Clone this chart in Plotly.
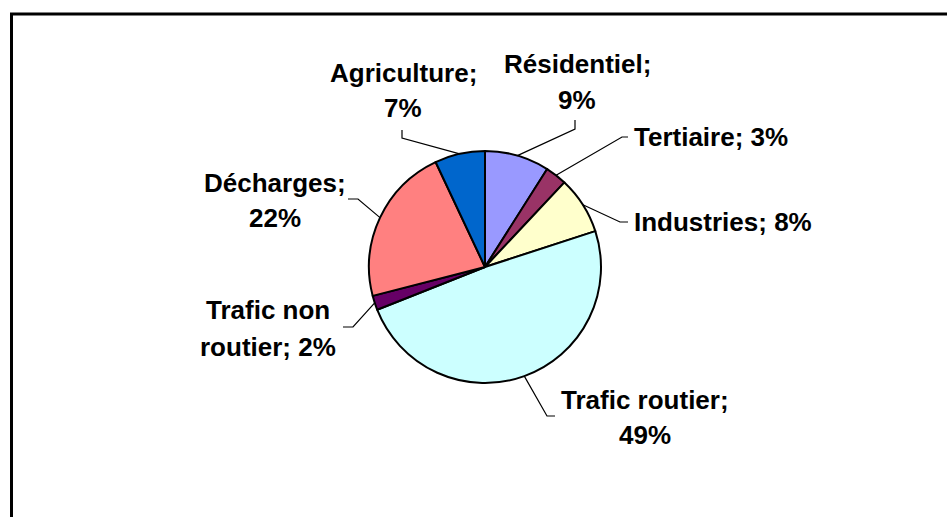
import math
import plotly.graph_objects as go

# ---- data ----
categories = ["Résidentiel", "Tertiaire", "Industries", "Trafic routier",
              "Trafic non routier", "Décharges", "Agriculture"]
values = [9, 3, 8, 49, 2, 22, 7]
colors = ["#9999FF", "#993366", "#FFFFCC", "#CCFFFF", "#660066", "#FF8080", "#0066CC"]
# words on first label line (None = single line)
first_line_words = [1, None, None, 2, 2, 1, 1]

# ---- layout (pixels) ----
W, H = 947, 517
CX, CY, R = 485, 267, 116
label_pos = [  # x, y line1, y line2, xanchor
    (577, 64, 100, "center"),
    (632, 137, None, "left"),
    (632, 222, None, "left"),
    (645, 400, 435, "center"),
    (268, 310, 347, "center"),
    (275, 183, 218, "center"),
    (403, 73, 108, "center"),
]
leader_pts = [  # elbow, end
    ((575, 129), (575, 120)),
    ((622, 137), (628, 137)),
    ((620, 222), (628, 222)),
    ((547, 416), (555, 416)),
    ((353, 327), (343, 327)),
    ((358, 199), (348, 199)),
    ((402, 138), (402, 130)),
]
FONT = dict(family="Liberation Sans, Arial, sans-serif", size=26, color="black")

fig = go.Figure()
fig.add_trace(go.Pie(
    labels=categories, values=values, sort=False, direction="clockwise", rotation=0,
    marker=dict(colors=colors, line=dict(color="black", width=2)),
    textinfo="none", hoverinfo="skip", showlegend=False,
    domain=dict(x=[(CX - R) / W, (CX + R) / W], y=[(H - CY - R) / H, (H - CY + R) / H]),
))

total = sum(values)
cum = 0
shapes = []
annotations = []
for i, (cat, v) in enumerate(zip(categories, values)):
    mid = (cum + v / 2) / total * 2 * math.pi
    cum += v
    sx, sy = CX + R * math.sin(mid), CY - R * math.cos(mid)
    (ex, ey), (fx, fy) = leader_pts[i]
    shapes.append(dict(type="path", xref="x", yref="y",
                       path=f"M{sx:.1f},{sy:.1f} L{ex},{ey} L{fx},{fy}",
                       line=dict(color="black", width=1.2)))
    words = f"{cat}; {v}%".split(" ")
    x, y1, y2, xa = label_pos[i]
    n = first_line_words[i]
    lines = [" ".join(words)] if n is None else [" ".join(words[:n]), " ".join(words[n:])]
    for txt, yy in zip(lines, [y1, y2]):
        annotations.append(dict(x=x, y=yy, xref="x", yref="y", text=f"<b>{txt}</b>",
                                showarrow=False, xanchor=xa, yanchor="middle", font=FONT))

shapes.append(dict(type="rect", xref="x", yref="y", x0=11.5, y0=14, x1=970, y1=540,
                   line=dict(color="black", width=3)))

fig.update_layout(
    width=W, height=H, margin=dict(l=0, r=0, t=0, b=0),
    paper_bgcolor="white", plot_bgcolor="rgba(0,0,0,0)",
    xaxis=dict(range=[0, W], visible=False, fixedrange=True),
    yaxis=dict(range=[H, 0], visible=False, fixedrange=True),
    shapes=shapes, annotations=annotations,
)
fig.write_html("out.html", config={"displayModeBar": False},
               post_script="document.body.style.margin='0';document.body.style.overflow='hidden';")
